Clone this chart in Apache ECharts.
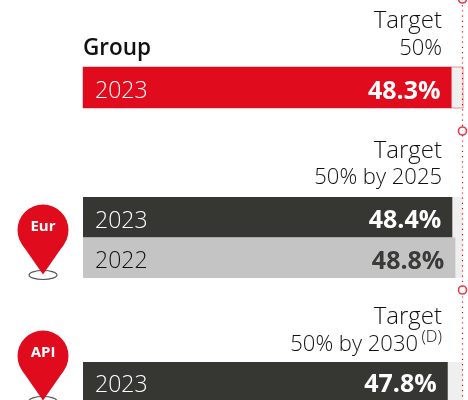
<!DOCTYPE html>
<html><head><meta charset="utf-8">
<style>html,body{margin:0;padding:0;background:#fff;overflow:hidden}#c{width:468px;height:400px}</style>
<script src="https://cdn.jsdelivr.net/npm/echarts@6/dist/echarts.min.js"></script>
</head><body><div id="c"></div>
<script>
const groupYears = ['2023'];
const groupValues = [48.3];
const eurYears = ['2023', '2022'];
const eurValues = [48.4, 48.8];
const apiYears = ['2023'];
const apiValues = [47.8];
const target = 50;

const RED = '#e00b1c', DARK = '#363733', GREY = '#c4c4c4', TRACK = '#efefef', INK = '#111';
const LIGHT = '"Open Sans", sans-serif';
const BOLD = '"Open Sans", sans-serif';
const AXIS_MAX = 49.8;

const panels = [
  {top: 67, height: 41, years: groupYears, values: groupValues, border: true},
  {top: 197, height: 81, years: eurYears, values: eurValues},
  {top: 362, height: 41, years: apiYears, values: apiValues}
];
const rowColor = (p, i) => p === 0 ? RED : (i === 0 ? DARK : GREY);
const yearStyle = color => ({padding: [8, 0, 0, 0], fontFamily: LIGHT, fontSize: 23, fontWeight: 300, color});

const grid = panels.map(p => ({
  left: 83, width: 380, top: p.top, height: p.height, show: true,
  backgroundColor: TRACK, borderWidth: p.border ? 1 : 0, borderColor: '#ec8f97'
}));
const xAxis = panels.map((p, i) => ({
  gridIndex: i, type: 'value', min: 0, max: AXIS_MAX, show: false
}));
const yAxis = panels.map((p, i) => ({
  gridIndex: i, type: 'category', inverse: true, data: p.years, z: 10,
  axisLine: {show: false}, axisTick: {show: false},
  axisLabel: {
    inside: true, margin: 12,
    formatter: (v, idx) => `{${rowColor(i, idx) === GREY ? 'onLight' : 'onDark'}|${v}}`,
    rich: {onDark: yearStyle('#fff'), onLight: yearStyle(INK)}
  }
}));
const series = panels.map((p, i) => ({
  type: 'bar', xAxisIndex: i, yAxisIndex: i, barWidth: '100%', silent: true,
  data: p.values.map((v, idx) => ({value: v, itemStyle: {color: rowColor(i, idx)},
    label: {color: rowColor(i, idx) === GREY ? '#3a3a38' : '#fff'}})),
  label: {show: true, position: 'insideRight', distance: 11, offset: [0, 4], fontFamily: BOLD,
    fontWeight: 700, fontSize: 25, formatter: d => d.value.toFixed(1) + '%'}
}));

// target line on its own full-height grid
grid.push({left: 83, width: 379.5, top: 0, height: 400, show: false});
xAxis.push({gridIndex: 3, type: 'value', min: 0, max: target, show: false});
yAxis.push({gridIndex: 3, type: 'value', min: 0, max: 400, inverse: true, show: false});
series.push({
  type: 'line', xAxisIndex: 3, yAxisIndex: 3, silent: true, clip: false, z: 20,
  symbol: 'none', showSymbol: false,
  lineStyle: {color: RED, width: 1.2, type: [1.2, 4]},
  data: [[target, 0], [target, 400]]
});
series.push({
  type: 'scatter', xAxisIndex: 3, yAxisIndex: 3, silent: true, clip: false, z: 21,
  symbol: 'circle', symbolSize: 8,
  itemStyle: {color: '#fff', borderColor: RED, borderWidth: 1.6},
  data: [[target, -1], [target, 131], [target, 290]]
});

const text = (right, y, t, size) => ({
  type: 'text', x: right, y, silent: true,
  style: {text: t, font: `300 ${size}px ${LIGHT}`, fill: INK, align: 'right', verticalAlign: 'middle'}
});
const pin = (cy, label) => [
  {type: 'ellipse', silent: true, shape: {cx: 43, cy: cy + 45, rx: 14, ry: 4.5},
   style: {fill: 'none', stroke: '#555', lineWidth: 1.2}},
  {type: 'circle', silent: true, shape: {cx: 43, cy, r: 25.5}, style: {fill: RED}},
  {type: 'polygon', silent: true, shape: {points: [[43, cy + 44.5], [63.9, cy + 14.6], [22.1, cy + 14.6]]}, style: {fill: RED}},
  {type: 'text', silent: true, x: 43, y: cy - 3, style: {text: label, fill: '#fff',
    font: `700 15px ${BOLD}`, align: 'center', verticalAlign: 'middle'}}
];

const graphic = [
  {type: 'text', silent: true, x: 83, y: 49, style: {text: 'Group', font: `600 22.5px ${LIGHT}`, fill: '#111', verticalAlign: 'middle'}},
  text(442, 21, 'Target', 24),
  text(442, 49, '50%', 22),
  text(442, 151, 'Target', 24),
  text(442, 178, '50% by 2025', 22),
  text(442, 317, 'Target', 24),
  text(418, 345, '50% by 2030', 22),
  text(442, 337, '(D)', 16.5),
  ...pin(230, 'Eur'),
  ...pin(356, 'API')
];

const chart = echarts.init(document.getElementById('c'), null, {renderer: 'canvas'});
chart.setOption({animation: false, backgroundColor: '#fff', grid, xAxis, yAxis, series, graphic});
</script></body></html>
